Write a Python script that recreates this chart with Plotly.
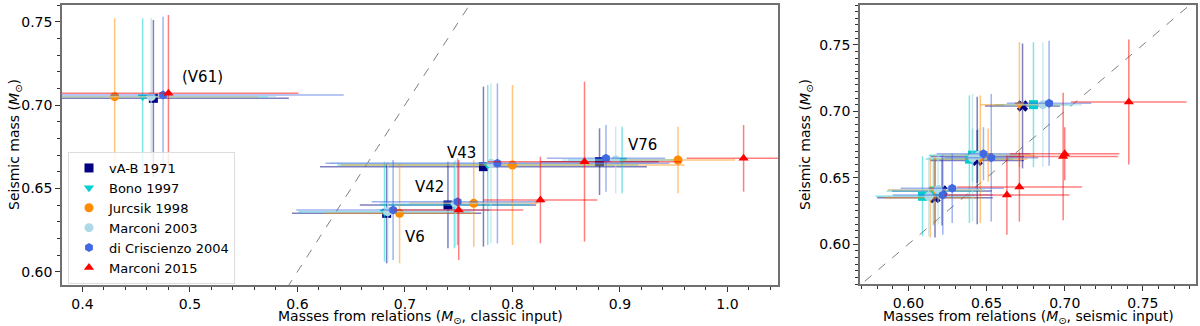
import plotly.graph_objects as go

stars = ["V6", "V42", "V43", "V76", "V61"]
series = ["vA-B 1971", "Bono 1997", "Jurcsik 1998", "Marconi 2003", "di Criscienzo 2004", "Marconi 2015"]
colors = ["#000080", "#00CED1", "#FF8C00", "#ADD8E6", "#4169E1", "#FF0000"]
err_colors = ["rgba(0,0,128,0.5)", "rgba(0,206,209,0.5)", "rgba(255,140,0,0.5)",
              "rgba(173,216,230,0.6)", "rgba(65,105,225,0.5)", "rgba(255,0,0,0.5)"]
sym_left = ["square", "triangle-down", "circle", "circle", "hexagon", "triangle-up"]
sym_right = ["x", "square", "triangle-down", "circle", "hexagon", "triangle-up"]

# seismic masses (y), per series, order of stars
seismic = {
    "vA-B 1971":          [0.635, 0.640, 0.663, 0.666, 0.704],
    "Bono 1997":          [0.636, 0.640, 0.664, 0.667, 0.705],
    "Jurcsik 1998":       [0.635, 0.641, 0.664, 0.667, 0.705],
    "Marconi 2003":       [0.636, 0.641, 0.665, 0.667, 0.705],
    "di Criscienzo 2004": [0.637, 0.642, 0.665, 0.668, 0.706],
    "Marconi 2015":       [0.637, 0.643, 0.666, 0.668, 0.707],
}
seismic_err = [0.030, 0.026, 0.048, 0.020, 0.047]

# masses from relations, classic input
classic = {
    "vA-B 1971":          [0.683, 0.740, 0.773, 0.881, 0.466],
    "Bono 1997":          [0.681, 0.746, 0.777, 0.902, 0.456],
    "Jurcsik 1998":       [0.695, 0.764, 0.800, 0.954, 0.430],
    "Marconi 2003":       [0.684, 0.747, 0.780, 0.896, 0.464],
    "di Criscienzo 2004": [0.689, 0.749, 0.786, 0.887, 0.475],
    "Marconi 2015":       [0.750, 0.826, 0.867, 1.015, 0.480],
}
classic_err = {
    "vA-B 1971":          [0.088, 0.082, 0.152, 0.055, 0.126],
    "Bono 1997":          [0.080, 0.070, 0.140, 0.050, 0.117],
    "Jurcsik 1998":       [0.070, 0.060, 0.160, 0.053, 0.133],
    "Marconi 2003":       [0.080, 0.070, 0.150, 0.050, 0.116],
    "di Criscienzo 2004": [0.090, 0.080, 0.160, 0.055, 0.168],
    "Marconi 2015":       [0.060, 0.053, 0.090, 0.053, 0.121],
}

# masses from relations, seismic input
seis_in = {
    "vA-B 1971":          [0.617, 0.6215, 0.644, 0.644, 0.673],
    "Bono 1997":          [0.609, 0.616, 0.639, 0.641, 0.680],
    "Jurcsik 1998":       [0.614, 0.617, 0.646, 0.651, 0.671],
    "Marconi 2003":       [0.613, 0.619, 0.641, 0.645, 0.686],
    "di Criscienzo 2004": [0.622, 0.628, 0.653, 0.648, 0.690],
    "Marconi 2015":       [0.663, 0.671, 0.699, 0.700, 0.741],
}
seis_in_err = {
    "vA-B 1971":          [0.037, 0.032, 0.030, 0.030, 0.024],
    "Bono 1997":          [0.030, 0.030, 0.028, 0.028, 0.025],
    "Jurcsik 1998":       [0.030, 0.030, 0.030, 0.030, 0.025],
    "Marconi 2003":       [0.030, 0.030, 0.028, 0.028, 0.025],
    "di Criscienzo 2004": [0.032, 0.033, 0.030, 0.030, 0.027],
    "Marconi 2015":       [0.040, 0.040, 0.035, 0.035, 0.037],
}

left_xrange = [0.381, 1.047]
left_yrange = [0.592, 0.760]
right_xrange = [0.569, 0.784]
right_yrange = [0.570, 0.780]

FONT = "DejaVu Sans, Verdana, sans-serif"
fig = go.Figure()

# 1:1 lines
fig.add_trace(go.Scatter(x=[0.3, 1.1], y=[0.3, 1.1], mode="lines", xaxis="x", yaxis="y",
                         line=dict(color="gray", width=1, dash="dash"), showlegend=False, hoverinfo="skip"))
fig.add_trace(go.Scatter(x=[0.3, 1.1], y=[0.3, 1.1], mode="lines", xaxis="x2", yaxis="y2",
                         line=dict(color="gray", width=1, dash="dash"), showlegend=False, hoverinfo="skip"))

for i, s in enumerate(series):
    fig.add_trace(go.Scatter(
        x=classic[s], y=seismic[s], mode="markers", name=s, xaxis="x", yaxis="y",
        marker=dict(symbol=sym_left[i], color=colors[i], size=9, line=dict(width=0)),
        error_x=dict(type="data", array=classic_err[s], color=err_colors[i], thickness=1.5, width=0),
        error_y=dict(type="data", array=seismic_err, color=err_colors[i], thickness=1.5, width=0),
        cliponaxis=True,
    ))
for i, s in enumerate(series):
    fig.add_trace(go.Scatter(
        x=seis_in[s], y=seismic[s], mode="markers", name=s, xaxis="x2", yaxis="y2", showlegend=False,
        marker=dict(symbol=sym_right[i], color=colors[i], size=10 if i == 0 else 9, line=dict(width=0)),
        error_x=dict(type="data", array=seis_in_err[s], color=err_colors[i], thickness=1.5, width=0),
        error_y=dict(type="data", array=seismic_err, color=err_colors[i], thickness=1.5, width=0),
        cliponaxis=True,
    ))

axcommon = dict(showline=True, mirror=True, linecolor="#707070", linewidth=1.5, ticks="outside",
                ticklen=5, tickwidth=1, tickcolor="#333", showgrid=False, zeroline=False, automargin=False,
                tickfont=dict(family=FONT, size=14, color="black"))
W, H = 1200, 326
fig.update_layout(
    width=W, height=H, margin=dict(l=0, r=0, t=0, b=0, autoexpand=False),
    paper_bgcolor="white", plot_bgcolor="white",
    font=dict(family=FONT, color="black"),
    xaxis=dict(domain=[62 / W, 778 / W], range=left_xrange, anchor="y", dtick=0.1, tickformat=".1f",
               minor=dict(dtick=0.02, ticks="outside", ticklen=3, tickcolor="#333"), **axcommon),
    yaxis=dict(domain=[41 / H, 1 - 5 / H], range=left_yrange, anchor="x", dtick=0.05, tickformat=".2f",
               minor=dict(dtick=0.01, ticks="outside", ticklen=3, tickcolor="#333"), **axcommon),
    xaxis2=dict(domain=[860 / W, 1196 / W], range=right_xrange, anchor="y2", dtick=0.05, tickformat=".2f",
                minor=dict(dtick=0.01, ticks="outside", ticklen=3, tickcolor="#333"), **axcommon),
    yaxis2=dict(domain=[42 / H, 1 - 5 / H], range=right_yrange, anchor="x2", dtick=0.05, tickformat=".2f",
                minor=dict(dtick=0.005, ticks="outside", ticklen=3, tickcolor="#333"), **axcommon),
    legend=dict(x=68 / W, y=1 - 152 / H, xanchor="left", yanchor="top", bgcolor="rgba(255,255,255,0.8)",
                bordercolor="#dddddd", borderwidth=1, font=dict(family=FONT, size=13), tracegroupgap=0,
                itemwidth=30),
    showlegend=True,
)

# axis titles
titles = [
    ("Masses from relations (<i>M</i><sub>⊙</sub>, classic input)", (62 + 778) / 2 / W, 1 - 317 / H, 0),
    ("Masses from relations (<i>M</i><sub>⊙</sub>, seismic input)", (860 + 1196) / 2 / W, 1 - 317 / H, 0),
    ("Seismic mass (<i>M</i><sub>⊙</sub>)", 15 / W, 1 - 145 / H, -90),
    ("Seismic mass (<i>M</i><sub>⊙</sub>)", 806 / W, 1 - 145 / H, -90),
]
for t, ax, ay, ang in titles:
    fig.add_annotation(x=ax, y=ay, xref="paper", yref="paper", text=t, showarrow=False, textangle=ang,
                       xanchor="center", yanchor="middle", font=dict(family=FONT, size=14, color="black"))

label_pos = {"(V61)": (0.512, 0.717), "V76": (0.921, 0.676), "V43": (0.753, 0.671),
             "V42": (0.723, 0.651), "V6": (0.709, 0.621)}
for t, (lx, ly) in label_pos.items():
    fig.add_annotation(x=lx, y=ly, xref="x", yref="y", text=t, showarrow=False,
                       font=dict(family=FONT, size=15, color="black"))

fig.write_html("out.html", config={"displayModeBar": False},
               post_script="document.body.style.margin='0px';document.body.style.overflow='hidden';")
